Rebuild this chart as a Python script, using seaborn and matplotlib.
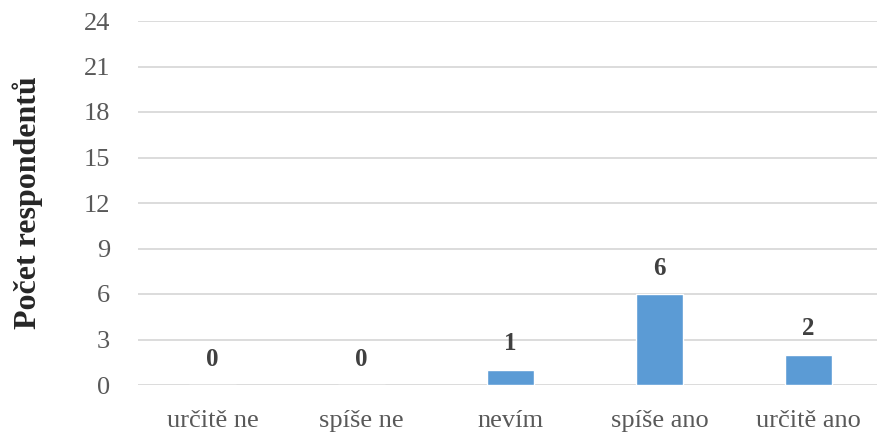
import matplotlib
matplotlib.use("Agg")
import matplotlib.pyplot as plt
import seaborn as sns
import pandas as pd

categories = ["určitě ne", "spíše ne", "nevím", "spíše ano", "určitě ano"]
counts = [0, 0, 1, 6, 2]
y_ticks = [0, 3, 6, 9, 12, 15, 18, 21, 24]

sns.set_theme(style="white")
plt.rcParams["font.family"] = ["Liberation Serif", "DejaVu Serif"]

df = pd.DataFrame({"kategorie": categories, "pocet": counts})

fig = plt.figure(figsize=(8.77, 4.41), dpi=100)
ax = fig.add_axes([138 / 877, 56 / 441, 745 / 877, 364 / 441])

sns.barplot(data=df, x="kategorie", y="pocet", color="#5B9BD5",
            width=0.31, saturation=1, ax=ax, zorder=3)

ax.set_ylim(0, 24)
ax.set_yticks(y_ticks)
ax.set_yticklabels([str(t) for t in y_ticks])
ax.set_xlim(-0.5, len(categories) - 0.5)
ax.yaxis.grid(True, color="#D9D9D9", linewidth=1.3, zorder=0)
ax.set_axisbelow(True)
for s in ax.spines.values():
    s.set_visible(False)

ax.tick_params(axis="both", length=0, labelsize=19, colors="#595959")
ax.tick_params(axis="x", pad=18)
ax.tick_params(axis="y", pad=20)
ax.set_xlabel("")
ax.set_ylabel("Počet respondentů", fontsize=23, fontweight="bold",
              color="#262626", labelpad=29)

for i, v in enumerate(counts):
    ax.text(i, v + 0.95, str(v), ha="center", va="bottom", fontsize=18,
            fontweight="bold", color="#404040")

fig.savefig("out.png", dpi=100)
